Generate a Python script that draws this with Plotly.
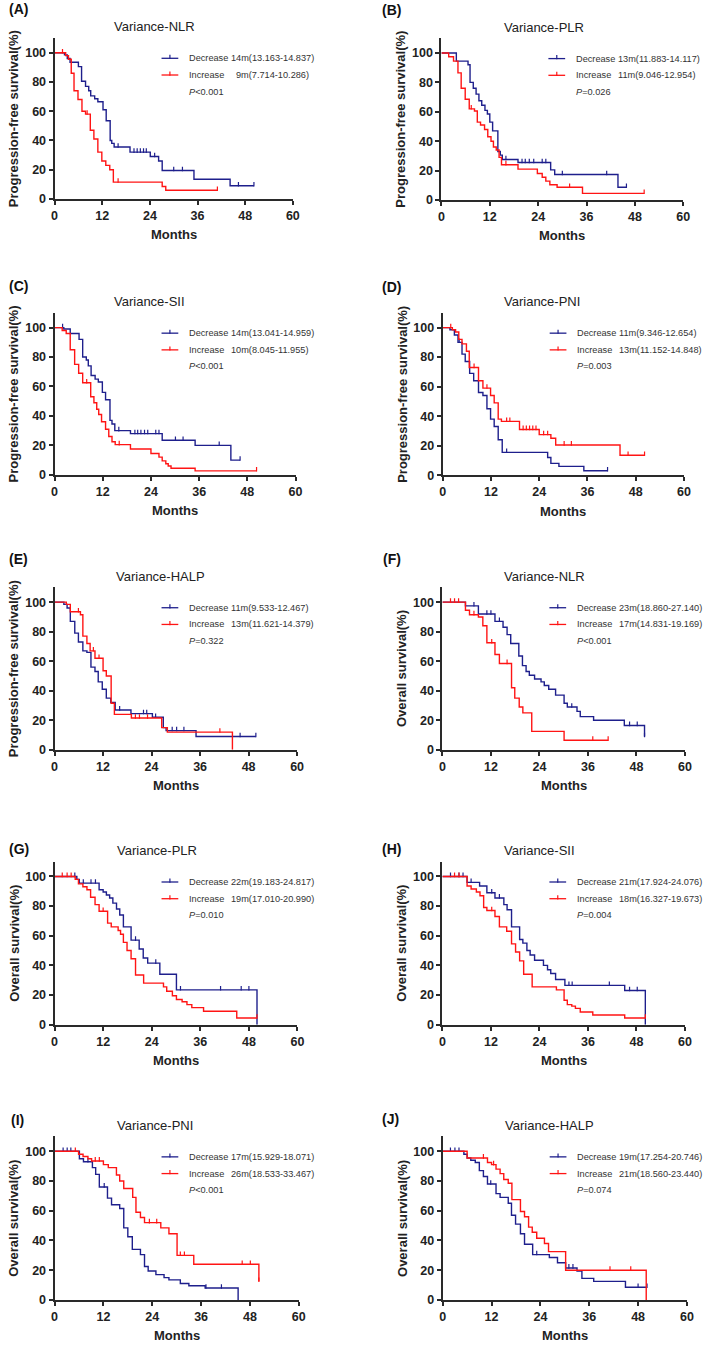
import plotly.graph_objects as go

W, H = 709, 1349

# ---------------- text content ----------------
panel_tags = ["(A)", "(B)", "(C)", "(D)", "(E)", "(F)", "(G)", "(H)", "(I)", "(J)"]
titles = ["Variance-NLR", "Variance-PLR", "Variance-SII", "Variance-PNI", "Variance-HALP",
          "Variance-NLR", "Variance-PLR", "Variance-SII", "Variance-PNI", "Variance-HALP"]
y_titles = ["Progression-free survival(%)"] * 5 + ["Overall survival(%)"] * 5
x_title = "Months"
x_ticks = [0, 12, 24, 36, 48, 60]
y_ticks = [0, 20, 40, 60, 80, 100]
group_names = ["Decrease", "Increase"]
dec_medians = ["14m(13.163-14.837)", "13m(11.883-14.117)", "14m(13.041-14.959)", "11m(9.346-12.654)",
               "11m(9.533-12.467)", "23m(18.860-27.140)", "22m(19.183-24.817)", "21m(17.924-24.076)",
               "17m(15.929-18.071)", "19m(17.254-20.746)"]
inc_medians = ["9m(7.714-10.286)", "11m(9.046-12.954)", "10m(8.045-11.955)", "13m(11.152-14.848)",
               "13m(11.621-14.379)", "17m(14.831-19.169)", "19m(17.010-20.990)", "18m(16.327-19.673)",
               "26m(18.533-33.467)", "21m(18.560-23.440)"]
p_values = ["<0.001", "=0.026", "<0.001", "=0.003", "=0.322",
            "<0.001", "=0.010", "=0.004", "<0.001", "=0.074"]

# ---------------- survival data (event times, survival after event, censor times) ----------------
A_dec_t = [2.5, 3.2, 3.9, 6.0, 6.8, 7.8, 8.6, 9.1, 10.1, 10.9, 12.2, 13.0, 14.0, 14.4, 15.0, 19.0, 24.1, 26.2, 27.1, 35.1, 44.2]
A_dec_s = [98.5, 96, 93.5, 90.5, 80.5, 77, 74, 70.5, 68.5, 66.5, 61, 53.5, 40, 38, 35.5, 32, 29, 26, 19.5, 13.5, 9]
A_dec_c = [16, 20, 20.8, 21.6, 22.4, 23.1, 25.2, 30, 32.2, 46.3, 50.2]
A_inc_t = [2.8, 3.5, 4.2, 4.9, 5.9, 6.9, 7.8, 9.0, 9.9, 10.9, 11.9, 12.9, 13.9, 14.8, 27.1, 28.0]
A_inc_s = [98, 95.5, 86, 74, 68, 60, 58, 47, 41, 32, 26, 23, 20, 11.5, 8.5, 6]
A_inc_c = [2, 8.2, 16, 41]

B_dec_t = [3.7, 6.6, 7.1, 7.9, 8.6, 9.3, 10.0, 10.8, 11.4, 12.0, 12.7, 14.0, 14.6, 15.1, 19.0, 27.1, 28.1, 43.8]
B_dec_s = [94.5, 92, 80, 76, 72, 67.5, 64.5, 61, 58.5, 53, 47, 33, 30.5, 27.5, 25.5, 20.5, 17.3, 8.6]
B_dec_c = [16, 20, 20.8, 21.8, 22.9, 25, 25.9, 30, 41, 45.9]
B_inc_t = [1.8, 3.0, 4.1, 4.9, 5.9, 6.9, 8.2, 8.9, 9.7, 10.7, 11.5, 12.3, 12.9, 13.6, 14.3, 14.9, 19.0, 23.8, 25.0, 25.9, 26.9, 28.7, 35.0]
B_inc_s = [97.5, 94.5, 86.5, 76, 68.5, 62, 60.5, 53, 51, 48, 43, 40, 36, 34, 29, 24, 21, 18, 15.5, 12.8, 10.3, 8.6, 4.5]
B_inc_c = [7.4, 16, 31.8, 50.3]

C_dec_t = [2.3, 3.9, 6.1, 7.0, 7.9, 8.4, 9.1, 10.1, 10.9, 11.9, 12.7, 13.8, 14.3, 15.0, 18.9, 26.8, 35.0, 43.9]
C_dec_s = [99, 96, 92, 80, 78, 74, 67.5, 65, 63, 56, 51, 37, 34.5, 30, 28, 23.5, 20, 10]
C_dec_c = [2, 16, 20, 20.7, 21.5, 22.4, 23.2, 25.2, 26, 30.1, 32, 41, 46.2]
C_inc_t = [1.9, 2.9, 3.9, 5.0, 6.0, 7.0, 9.0, 9.8, 10.5, 11.0, 11.7, 12.7, 13.5, 14.3, 15.1, 18.9, 24.0, 26.0, 26.8, 27.7, 28.3, 29.0, 35.0]
C_inc_s = [98, 96, 85, 75, 69, 62.5, 53, 49, 44.5, 41, 36, 31, 26, 22.5, 20.5, 17.5, 14.5, 12, 9.5, 7.5, 6, 4.5, 2.7]
C_inc_c = [8, 16.1, 50.3]

D_dec_t = [1.8, 2.9, 3.8, 4.8, 5.6, 6.7, 7.7, 8.9, 10.0, 11.0, 11.9, 12.8, 13.8, 14.8, 26.1, 26.9, 28.9, 35.1]
D_dec_s = [98.5, 95, 90, 82, 77, 69, 64, 56, 54, 45, 38, 33, 24, 15.5, 12, 8, 6, 3]
D_dec_c = [4.1, 15.9, 41]
D_inc_t = [2.4, 3.2, 4.0, 4.8, 5.9, 6.6, 8.9, 10.0, 11.9, 12.8, 13.8, 14.6, 19.1, 24.0, 26.9, 28.1, 44.1]
D_inc_s = [98.5, 97, 92, 89, 84, 73, 64, 59, 54, 49, 38, 36.5, 31, 27.5, 25, 20.5, 13.5]
D_inc_c = [2, 7.8, 11, 15.9, 16.7, 20, 20.8, 21.6, 22.4, 23.2, 25.1, 26.1, 30.2, 32, 46.1, 50.2]

E_dec_t = [2.3, 3.1, 3.9, 5.0, 5.9, 7.0, 8.0, 9.0, 10.0, 10.8, 11.8, 12.8, 13.9, 15.0, 18.9, 24.2, 26.9, 27.6, 35.0]
E_dec_s = [98.5, 96, 87, 79, 73, 67, 66, 56, 53, 46, 41, 35, 32, 27, 24.5, 22, 15, 13, 9]
E_dec_c = [16.1, 22, 22.8, 25, 29.1, 30.2, 32, 45.9, 49.8]
E_inc_t = [2.9, 3.9, 6.4, 7.0, 8.0, 8.8, 10.0, 12.0, 12.8, 14.0, 14.8, 19.0, 26.5, 27.9, 44.0]
E_inc_s = [98.5, 93.5, 91.5, 77, 72, 67, 62, 53.5, 50, 31.5, 24, 21.5, 15, 12, 0]
E_inc_c = [5.9, 9.6, 11, 20, 21, 23, 40.9]

F_dec_t = [5.7, 8.9, 13.0, 15.0, 16.0, 16.9, 18.9, 19.8, 20.7, 21.5, 22.8, 24.4, 25.2, 26.3, 28.0, 30.1, 30.9, 33.3, 34.1, 37.4, 45.0, 50.0]
F_dec_s = [97.5, 92, 87, 83, 78, 72, 63.5, 57, 53, 50.5, 48, 46, 43.5, 41, 37, 31.5, 29, 26, 22.5, 20, 16.5, 9]
F_dec_c = [7.8, 11, 12, 14.1, 32, 46.3, 48.2, 50]
F_inc_t = [5.7, 6.7, 8.9, 10.0, 11.0, 13.0, 14.1, 17.1, 17.9, 19.0, 19.9, 22.1, 30.1]
F_inc_s = [94.5, 91.5, 90, 84, 72.5, 64.5, 58.5, 42, 35, 29, 25, 12.5, 6.5]
F_inc_c = [2, 3, 4, 7.8, 12.2, 16, 37.2, 41]

G_dec_t = [5.5, 6.1, 11.0, 12.0, 12.8, 13.6, 14.4, 15.3, 16.1, 17.0, 18.9, 20.9, 21.9, 23.0, 26.0, 30.1, 50.0]
G_dec_s = [98, 95.5, 91, 89.5, 87.5, 85.5, 82, 78, 74, 66, 57, 51, 45, 41.5, 34, 23.5, 0]
G_dec_c = [5, 7.1, 9, 10.1, 20, 25, 31.1, 41, 46.1, 48]
G_inc_t = [5.1, 5.9, 7.0, 8.0, 8.9, 10.0, 11.0, 13.1, 14.0, 15.7, 16.3, 17.0, 17.9, 18.9, 20.0, 22.0, 26.9, 27.7, 29.1, 30.1, 31.5, 32.7, 33.9, 36.8, 45.0]
G_inc_s = [98, 95, 93, 91, 86, 81, 76.5, 68.5, 66, 63.5, 61, 55.5, 50, 44.5, 33.5, 28, 25.5, 22.5, 19.5, 17, 15.5, 13.5, 11.5, 9, 4.5]
G_inc_c = [1.9, 3.1, 4.1, 12, 50]

H_dec_t = [6.1, 9.2, 11.0, 13.0, 15.2, 16.0, 17.1, 19.1, 19.9, 20.9, 21.7, 22.8, 25.0, 26.0, 26.8, 28.0, 30.3, 45.1, 50.2]
H_dec_s = [96, 93.5, 89, 85.5, 81, 77.5, 66, 57.5, 55, 50, 47, 43.5, 40, 37, 34.5, 30.5, 26.5, 23, 0]
H_dec_c = [2, 4.1, 5.1, 7.1, 12.2, 14.1, 31.3, 32.1, 41.3, 46.3, 48.2]
H_inc_t = [6.1, 7.1, 8.4, 9.3, 10.2, 11.0, 13.0, 14.1, 15.9, 17.1, 18.1, 19.1, 20.1, 22.2, 28.2, 30.1, 30.9, 32.0, 32.9, 34.1, 37.2, 45.1]
H_inc_s = [93.5, 91.5, 89.5, 87, 79, 77, 73, 66, 63, 54.5, 49, 43, 34, 25.5, 23.5, 16.5, 13.5, 12.5, 11, 8.5, 6.5, 4.5]
H_inc_c = [3, 4.1, 12.2, 50.2]

I_dec_t = [6.1, 7.1, 9.3, 10.1, 11.0, 13.0, 14.0, 16.0, 17.0, 18.0, 19.1, 21.1, 22.1, 23.0, 24.9, 26.9, 28.1, 30.9, 33.0, 37.0, 45.1]
I_dec_s = [95, 93, 89, 84.5, 76, 68.5, 64, 61.5, 48.5, 42.5, 34, 30.5, 22.5, 19.5, 17, 15, 13.5, 11, 9.5, 8, 0]
I_dec_c = [2.1, 3.1, 4, 8.2, 12.2, 37.2, 41]
I_inc_t = [5.9, 7.0, 8.2, 9.1, 12.0, 13.2, 15.2, 16.0, 17.0, 19.2, 20.0, 21.1, 22.1, 26.1, 28.1, 30.1, 34.2, 50.2]
I_inc_s = [98, 96.5, 95, 93.5, 91, 89, 84, 80, 75, 69, 59, 55.5, 52, 48.5, 44.5, 30, 24, 12.5]
I_inc_c = [5.1, 10, 11, 23.3, 25.1, 30.9, 31.9, 46.1, 48.1, 50.2]

J_dec_t = [5.2, 6.0, 6.9, 8.0, 9.0, 10.0, 11.0, 13.1, 14.1, 16.1, 16.9, 17.9, 19.1, 20.1, 22.1, 26.2, 28.2, 30.2, 33.0, 34.2, 37.1, 44.9]
J_dec_s = [98, 95.5, 94, 92.5, 87, 83, 78, 71.5, 69, 65, 57, 51, 44.5, 37.5, 30.5, 28.5, 25, 21.5, 19.5, 14.5, 12.5, 8.5]
J_dec_c = [1.9, 3, 4, 11.8, 23.1, 31, 32, 48, 50.2]
J_inc_t = [6.0, 11.0, 12.0, 13.1, 14.1, 15.0, 16.1, 17.0, 19.1, 20.1, 21.1, 22.0, 23.1, 25.0, 26.0, 30.2, 50.0]
J_inc_s = [95.5, 92.5, 91, 88, 85, 81, 78.5, 67.5, 59.5, 56, 49, 45.5, 41.5, 38, 32.5, 20, 0]
J_inc_c = [10, 12.5, 41.1, 46.2]

panels_data = [
    ((A_dec_t, A_dec_s, A_dec_c), (A_inc_t, A_inc_s, A_inc_c)),
    ((B_dec_t, B_dec_s, B_dec_c), (B_inc_t, B_inc_s, B_inc_c)),
    ((C_dec_t, C_dec_s, C_dec_c), (C_inc_t, C_inc_s, C_inc_c)),
    ((D_dec_t, D_dec_s, D_dec_c), (D_inc_t, D_inc_s, D_inc_c)),
    ((E_dec_t, E_dec_s, E_dec_c), (E_inc_t, E_inc_s, E_inc_c)),
    ((F_dec_t, F_dec_s, F_dec_c), (F_inc_t, F_inc_s, F_inc_c)),
    ((G_dec_t, G_dec_s, G_dec_c), (G_inc_t, G_inc_s, G_inc_c)),
    ((H_dec_t, H_dec_s, H_dec_c), (H_inc_t, H_inc_s, H_inc_c)),
    ((I_dec_t, I_dec_s, I_dec_c), (I_inc_t, I_inc_s, I_inc_c)),
    ((J_dec_t, J_dec_s, J_dec_c), (J_inc_t, J_inc_s, J_inc_c)),
]

# ---------------- layout geometry (pixels): x of 0, x of 60, y of 100 %, y of 0 % ----------------
geom = [
    (52.3, 294.0, 53.0, 200.0), (444.7, 690.0, 53.3, 201.0),
    (52.3, 296.7, 329.3, 477.3), (446.0, 690.7, 329.3, 477.7),
    (52.3, 298.3, 605.3, 753.7), (445.7, 691.7, 605.3, 753.7),
    (52.3, 298.7, 881.0, 1030.0), (445.7, 691.7, 881.0, 1030.0),
    (52.3, 300.0, 1157.3, 1306.7), (446.0, 693.7, 1157.3, 1306.7),
]
tag_pos = [(4, 9.5), (382, 10), (4, 287), (382, 288), (4, 562), (383, 562),
           (4, 853), (382, 853), (6, 1126), (382, 1125)]
title_x = [111, 505.7, 111, 505.7, 112.7, 505.7, 113.3, 505.7, 113.3, 506.7]

BLUE = "#1e1f8c"
RED = "#ff1414"
AX = "#2a2a2a"
FONT = "Liberation Sans, Arial, sans-serif"
colors = [BLUE, RED]


def px(x):
    return x / W


def py(y):
    return 1 - y / H


def step_value(t, s, c):
    v = 100.0
    for ti, si in zip(t, s):
        if ti <= c:
            v = si
    return v


fig = go.Figure()
annotations = []
shapes = []

for i in range(10):
    n = i + 1
    xa = "x" if n == 1 else f"x{n}"
    ya = "y" if n == 1 else f"y{n}"
    x0, x60, y100, y0 = geom[i]
    ytop = y0 - 1.1 * (y0 - y100)

    for g in range(2):
        t, s, c = panels_data[i][g]
        end = max([t[-1]] + list(c))
        xs = [0] + list(t) + [end]
        ys = [100] + list(s) + [s[-1]]
        fig.add_trace(go.Scatter(x=xs, y=ys, mode="lines", line=dict(color=colors[g], width=1.4, shape="hv"),
                                 xaxis=xa, yaxis=ya, hoverinfo="skip", showlegend=False))
        cy = [step_value(t, s, ci) for ci in c]
        fig.add_trace(go.Scatter(x=c, y=cy, mode="markers", marker=dict(size=1, color=colors[g], opacity=0),
                                 error_y=dict(type="data", symmetric=False, array=[2.6] * len(c),
                                              arrayminus=[0.5] * len(c), width=0, thickness=1.2,
                                              color=colors[g]),
                                 xaxis=xa, yaxis=ya, hoverinfo="skip", showlegend=False))

    axis_common = dict(showline=True, linewidth=2, linecolor=AX, ticks="outside", ticklen=4, tickwidth=1.6,
                       tickcolor=AX, showgrid=False, zeroline=False,
                       tickfont=dict(family=FONT, size=12.5, color="#222", weight="bold"))
    fig.layout[("xaxis" if n == 1 else f"xaxis{n}")] = dict(
        domain=[px(x0), px(x60)], range=[0, 60], tickvals=x_ticks, anchor=ya, **axis_common)
    fig.layout[("yaxis" if n == 1 else f"yaxis{n}")] = dict(
        domain=[py(y0), py(ytop)], range=[0, 110], tickvals=y_ticks, anchor=xa, **axis_common)

    # panel tag
    annotations.append(dict(x=px(tag_pos[i][0]), y=py(tag_pos[i][1]), xref="paper", yref="paper",
                            text=f"<b>{panel_tags[i]}</b>", showarrow=False, xanchor="left", yanchor="middle",
                            font=dict(family=FONT, size=14, color="#111")))
    # title
    annotations.append(dict(x=px(title_x[i]), y=py(y100 - 26), xref="paper", yref="paper",
                            text=titles[i], showarrow=False, xanchor="left", yanchor="middle",
                            font=dict(family=FONT, size=13, color="#222")))
    # y title
    annotations.append(dict(x=px(x0 - 41.5), y=py((y0 + ytop) / 2), xref="paper", yref="paper",
                            text=f"<b>{y_titles[i]}</b>", showarrow=False, textangle=-90,
                            xanchor="center", yanchor="middle", font=dict(family=FONT, size=13, color="#222")))
    # x title
    annotations.append(dict(x=px((x0 + x60) / 2), y=py(y0 + 36), xref="paper", yref="paper",
                            text=f"<b>{x_title}</b>", showarrow=False, xanchor="center", yanchor="middle",
                            font=dict(family=FONT, size=13, color="#222")))
    # legend
    meds = [dec_medians[i], inc_medians[i]]
    for g in range(2):
        ly = y100 + 5.6 + 16.8 * g
        shapes.append(dict(type="line", xref="paper", yref="paper", x0=px(x0 + 108.5), x1=px(x0 + 125.5),
                           y0=py(ly), y1=py(ly), line=dict(color=colors[g], width=1.3)))
        shapes.append(dict(type="line", xref="paper", yref="paper", x0=px(x0 + 117), x1=px(x0 + 117),
                           y0=py(ly + 0.7), y1=py(ly - 3.5), line=dict(color=colors[g], width=1.2)))
        annotations.append(dict(x=px(x0 + 134.5), y=py(ly), xref="paper", yref="paper", text=group_names[g],
                                showarrow=False, xanchor="left", yanchor="middle",
                                font=dict(family=FONT, size=9.2, color="#333")))
        ndig = len(meds[g].split("m")[0])
        annotations.append(dict(x=px(x0 + 177 + (2 - ndig) * 5.0), y=py(ly), xref="paper", yref="paper",
                                text=meds[g], showarrow=False, xanchor="left", yanchor="middle",
                                font=dict(family=FONT, size=9.2, color="#333")))
    annotations.append(dict(x=px(x0 + 134.5), y=py(y100 + 39), xref="paper", yref="paper",
                            text=f"<i>P</i>{p_values[i]}", showarrow=False, xanchor="left", yanchor="middle",
                            font=dict(family=FONT, size=9.2, color="#333")))

fig.update_layout(width=W, height=H, margin=dict(l=0, r=0, t=0, b=0), paper_bgcolor="white",
                  plot_bgcolor="white", showlegend=False, annotations=annotations, shapes=shapes)

fig.write_html("out.html", config={"displayModeBar": False},
               post_script="document.body.style.margin='0';document.body.style.overflow='hidden';")
